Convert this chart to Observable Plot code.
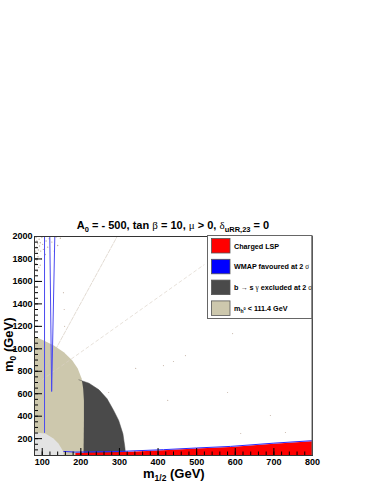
<!DOCTYPE html>
<html><head><meta charset="utf-8">
<script src="https://cdn.jsdelivr.net/npm/d3@7"></script>
<script src="https://cdn.jsdelivr.net/npm/@observablehq/plot@0.6"></script>
<style>
body{margin:0;background:#fff}
#chart{position:relative;width:374px;height:484px}
svg{display:block}
</style>
</head><body><div id="chart"></div>
<script>
// ---- tick labels ----
const xTicks = [100, 200, 300, 400, 500, 600, 700, 800];
const yTicks = [200, 400, 600, 800, 1000, 1200, 1400, 1600, 1800, 2000];

// ---- regions (m1/2, m0) in GeV ----
const lightGreyRegion = [[80,255],[108,246],[129,201],[142,157],[153,94],[156,50],[80,50]];
const higgsRegion = [[80,1110],[104,1075],[130,1030],[156,970],[178,896],[192,825],[202,736],[206,647],[208,540],[208,362],[207,50],[80,50]];
const bsgRegion = [[195,724],[221,694],[247,635],[268,555],[285,451],[298,362],[309,243],[314,124],[316,50],[186,50],[186,273],[189,424],[193,569]];
const chargedLSPRegion = [[186,50],[186,72],[300,80],[414,97],[500,112],[588,126],[700,155],[800,177],[800,50]];

// ---- WMAP strips ----
const wmapBottom = [[156,86],[186,80],[300,86],[414,102],[500,117],[588,131],[700,160],[800,182]];
const wmapLeft = [[106,2000],[106,255]];
const wmapFunnel = [[119.6,2000],[124.4,620],[132.6,2000]];

// ---- faint scan artefacts ----
const faintSteep = [[87,694],[294,2000]];
const faintShallow = [[87,694],[519,1748]];
const cloudDots = [[84,1990],[86,1960],[88,1935],[85,1905],[90,1880],[87,1850],[92,1975],[95,1945],[93,1915],[89,1820],[86,1790],[96,1870],[99,1990],[101,1930],[98,1800],[84,1760],[91,1725],[103,1885],[110,1960],[114,1905],[108,1840],[118,1980],[125,1950],[136,1995],[140,1920],[147,1985],[131,1870],[87,1690],[95,1745],[83,1870]];
const strayDots = [[593,1136],[471,940],[440,887],[414,851],[342,825],[272,611],[580,611],[425,540],[691,406],[614,246],[730,255],[155,1500],[157,1350],[158,1200]];

// ---- legend ----
const legendLabels = ["Charged LSP", "WMAP favoured at 2 σ", "b → s γ excluded at 2 σ", "m_h0 < 111.4 GeV"];
const legendColors = ["#ff0000", "#0000ff", "#4a4a4a", "#cdc8ad"];

const xMinor = d3.range(80, 801, 20);
const yMinor = d3.range(50, 2001, 50);

const X = d => d[0], Y = d => d[1];

const plot = Plot.plot({
  width: 374, height: 484,
  marginTop: 236, marginBottom: 29, marginLeft: 34, marginRight: 62,
  x: {domain: [80, 800]},
  y: {domain: [50, 2000]},
  style: {fontFamily: "'Liberation Sans', Arial, sans-serif", fontSize: "9px", fontWeight: "bold", color: "#000", background: "#fff"},
  marks: [
    Plot.line(bsgRegion, {x: X, y: Y, fill: "#4a4a4a", stroke: "none", clip: true}),
    Plot.line(higgsRegion, {x: X, y: Y, fill: "#cdc8ad", stroke: "none", clip: true}),
    Plot.line(bsgRegion.slice(0, 9), {x: X, y: Y, fill: "none", stroke: "#4a4a4a", strokeWidth: 0.5, clip: true}),
    Plot.line(lightGreyRegion, {x: X, y: Y, fill: "#e3e3e3", stroke: "none", clip: true}),
    Plot.line(faintSteep, {x: X, y: Y, stroke: "#d2c6ba", strokeWidth: 0.8, strokeOpacity: 0.8, strokeDasharray: "4,1.5", clip: true}),
    Plot.line(faintShallow, {x: X, y: Y, stroke: "#d9cfc4", strokeWidth: 0.8, strokeOpacity: 0.8, strokeDasharray: "3,3", clip: true}),
    Plot.dot(cloudDots, {x: X, y: Y, r: 0.7, fill: "#bfb0a2", stroke: "none", clip: true}),
    Plot.dot(strayDots, {x: X, y: Y, r: 0.6, fill: "#c9b9ad", stroke: "none", clip: true}),
    Plot.line(chargedLSPRegion, {x: X, y: Y, fill: "#ff0000", stroke: "none", clip: true}),
    Plot.line(wmapBottom, {x: X, y: Y, stroke: "#2a2aff", strokeWidth: 1, clip: true}),
    Plot.line(wmapLeft, {x: X, y: Y, stroke: "#4a4af0", strokeWidth: 1, clip: true}),
    Plot.line(wmapFunnel, {x: X, y: Y, stroke: "#4a4af0", strokeWidth: 1, clip: true}),
    Plot.tickY(yMinor, {y: d => d, insetRight: 274, stroke: "#000", strokeWidth: 1}),
    Plot.tickY(yTicks, {y: d => d, insetRight: 270, stroke: "#000", strokeWidth: 1}),
    Plot.tickX(xMinor, {x: d => d, insetTop: 215.5, stroke: "#000", strokeWidth: 1}),
    Plot.tickX(xTicks, {x: d => d, insetTop: 212, stroke: "#000", strokeWidth: 1}),
    Plot.frame({stroke: "#333", strokeWidth: 1}),
    Plot.axisX({ticks: xTicks, tickSize: 0, tickPadding: 3, label: null, tickFormat: d => String(d), fontSize: 9, fontWeight: "bold"}),
    Plot.axisY({ticks: yTicks, tickSize: 0, tickPadding: 2, label: null, tickFormat: d => String(d), fontSize: 9, fontWeight: "bold"})
  ]
});
document.getElementById("chart").appendChild(plot);

const svg = d3.select(plot);
const sans = "'Liberation Sans', Arial, sans-serif";
const serif = "'Liberation Serif', 'DejaVu Serif', serif";

// title
const title = svg.append("text").attr("x", 173).attr("y", 229).attr("text-anchor", "middle")
  .attr("font-family", sans).attr("font-size", 11).attr("font-weight", "bold").attr("fill", "#000");
title.append("tspan").text("A");
title.append("tspan").attr("font-size", 7.5).attr("dy", 2.5).text("0");
title.append("tspan").attr("dy", -2.5).text(" = - 500, tan ");
title.append("tspan").attr("font-family", serif).attr("font-weight", "normal").text("β");
title.append("tspan").text(" = 10, ");
title.append("tspan").attr("font-family", serif).attr("font-weight", "normal").text("μ");
title.append("tspan").text(" > 0, ");
title.append("tspan").attr("font-family", serif).attr("font-weight", "normal").text("δ");
title.append("tspan").attr("font-size", 7.5).attr("dy", 2.5).text("uRR,23");
title.append("tspan").attr("dy", -2.5).text(" = 0");

// x title
const xt = svg.append("text").attr("x", 143).attr("y", 478).attr("text-anchor", "start")
  .attr("font-family", sans).attr("font-size", 13).attr("font-weight", "bold").attr("fill", "#000");
xt.append("tspan").text("m");
xt.append("tspan").attr("font-size", 8.5).attr("dy", 3).text("1/2");
xt.append("tspan").attr("dy", -3).text(" (GeV)");

// y title
const yt = svg.append("text").attr("transform", "translate(13,372) rotate(-90)").attr("text-anchor", "start")
  .attr("font-family", sans).attr("font-size", 13).attr("font-weight", "bold").attr("fill", "#000");
yt.append("tspan").text("m");
yt.append("tspan").attr("font-size", 8.5).attr("dy", 3).text("0");
yt.append("tspan").attr("dy", -3).text(" (GeV)");

// legend
const lg = svg.append("g").attr("text-anchor", "start");
lg.append("rect").attr("x", 207.5).attr("y", 235.5).attr("width", 104.5).attr("height", 83)
  .attr("fill", "#fff").attr("stroke", "#666").attr("stroke-width", 1);
legendLabels.forEach((lab, i) => {
  const y0 = 238.5 + i * 20.8;
  lg.append("rect").attr("x", 211.5).attr("y", y0).attr("width", 18.5).attr("height", 14.5)
    .attr("fill", legendColors[i]).attr("stroke", "#555").attr("stroke-width", 0.8);
  const t = lg.append("text").attr("x", 234).attr("y", y0 + 10).attr("text-anchor", "start")
    .attr("font-family", sans).attr("font-size", 7.2).attr("font-weight", "bold").attr("fill", "#000");
  if (lab.startsWith("m_h0")) {
    t.append("tspan").text("m");
    t.append("tspan").attr("font-size", 5).attr("dy", 2).text("h");
    t.append("tspan").attr("font-size", 4).attr("dy", -2.5).text("0");
    t.append("tspan").attr("dy", 0.5).text(" < 111.4 GeV");
  } else {
    lab.split(/(σ|γ|→)/).forEach(part => {
      if (!part) return;
      const sp = t.append("tspan").text(part);
      if (part === "σ" || part === "γ") sp.attr("font-family", serif).attr("font-weight", "normal");
    });
  }
});
svg.append("line").attr("x1", 312).attr("x2", 312).attr("y1", 236).attr("y2", 455).attr("stroke", "#666");
</script>
</body></html>
